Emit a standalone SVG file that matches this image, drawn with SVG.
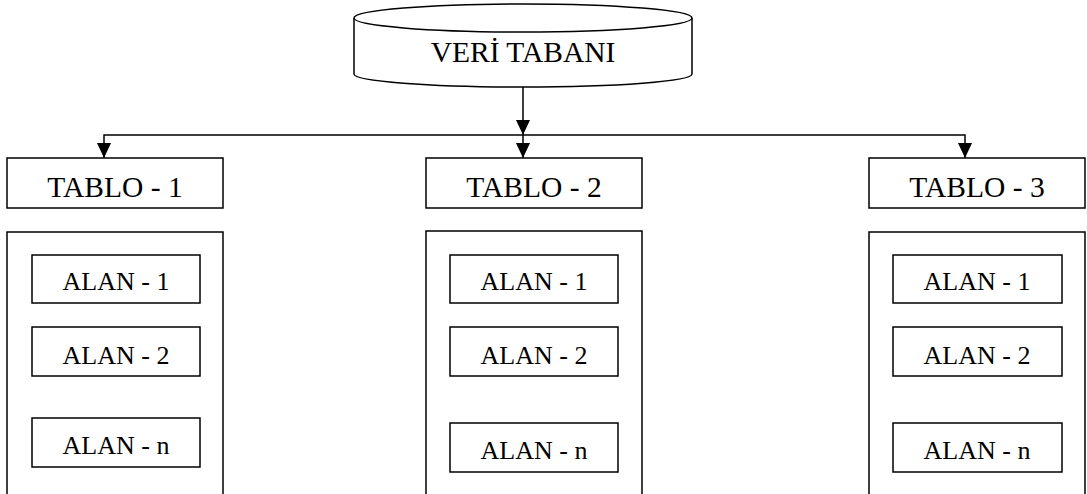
<svg xmlns="http://www.w3.org/2000/svg" width="1087" height="494" viewBox="0 0 1087 494">
<style>
  .s{fill:none;stroke:#000;stroke-width:1.5}
  .b{fill:#fff;stroke:#000;stroke-width:1.5}
  .t{font-family:"Liberation Serif","Times New Roman",serif;fill:#000;text-anchor:middle}
  .big{font-size:29.5px}
  .tab{font-size:29.5px}
  .al{font-size:26px}
</style>
<defs>
  <marker id="ah" markerUnits="userSpaceOnUse" markerWidth="16" markerHeight="15" refX="15" refY="7" orient="auto">
    <path d="M0,0 L15,7 L0,14 Z" fill="#000"/>
  </marker>
</defs>
<rect width="1087" height="494" fill="#fff"/>
<g id="connectors">
  <path class="s" d="M523,87 V135" marker-end="url(#ah)"/>
  <path class="s" d="M523,135 V158" marker-end="url(#ah)"/>
  <path class="s" d="M523,135 H104 V158" marker-end="url(#ah)"/>
  <path class="s" d="M523,135 H965 V158" marker-end="url(#ah)"/>
</g>
<g id="veritabani">
  <path class="b" d="M354,18 A169,14 0 0 1 692,18 V74 A169,13 0 0 1 354,74 Z"/>
  <path class="s" d="M354,18 A169,14 0 0 0 692,18"/>
  <text class="t big" x="523" y="62">VERİ TABANI</text>
</g>
<g id="tablo1">
  <rect class="b" x="7" y="158" width="216" height="50"/>
  <text class="t tab" x="115" y="197">TABLO - 1</text>
</g>
<g id="tablo2">
  <rect class="b" x="426" y="158" width="216" height="50"/>
  <text class="t tab" x="534" y="197">TABLO - 2</text>
</g>
<g id="tablo3">
  <rect class="b" x="869" y="158" width="216" height="50"/>
  <text class="t tab" x="977" y="197">TABLO - 3</text>
</g>
<g id="alanlar1">
  <path class="s" d="M7,496 V232 H223 V496"/>
  <g id="t1-alan1"><rect class="b" x="32" y="255" width="168" height="48"/><text class="t al" x="116" y="290">ALAN - 1</text></g>
  <g id="t1-alan2"><rect class="b" x="32" y="327" width="168" height="49"/><text class="t al" x="116" y="364">ALAN - 2</text></g>
  <g id="t1-alann"><rect class="b" x="32" y="418" width="168" height="49"/><text class="t al" x="116" y="454">ALAN - n</text></g>
</g>
<g id="alanlar2">
  <path class="s" d="M426,496 V231 H642 V496"/>
  <g id="t2-alan1"><rect class="b" x="450" y="255" width="168" height="48"/><text class="t al" x="534" y="290">ALAN - 1</text></g>
  <g id="t2-alan2"><rect class="b" x="450" y="327" width="168" height="49"/><text class="t al" x="534" y="364">ALAN - 2</text></g>
  <g id="t2-alann"><rect class="b" x="450" y="423" width="168" height="49"/><text class="t al" x="534" y="459">ALAN - n</text></g>
</g>
<g id="alanlar3">
  <path class="s" d="M869,496 V232 H1085 V496"/>
  <g id="t3-alan1"><rect class="b" x="893" y="255" width="169" height="48"/><text class="t al" x="977" y="290">ALAN - 1</text></g>
  <g id="t3-alan2"><rect class="b" x="893" y="327" width="169" height="49"/><text class="t al" x="977" y="364">ALAN - 2</text></g>
  <g id="t3-alann"><rect class="b" x="893" y="423" width="169" height="49"/><text class="t al" x="977" y="459">ALAN - n</text></g>
</g>
</svg>
